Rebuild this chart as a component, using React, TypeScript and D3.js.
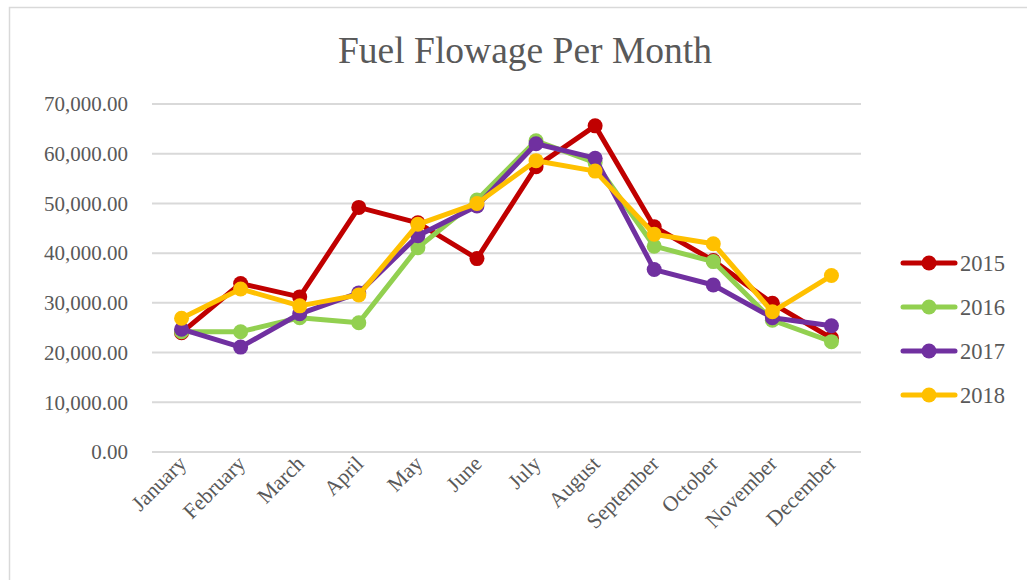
import React from 'react';
import * as d3 from 'd3';

const months = ['January', 'February', 'March', 'April', 'May', 'June', 'July', 'August', 'September', 'October', 'November', 'December'];
const years = ['2015', '2016', '2017', '2018'];
const colors = ['#C00000', '#92D050', '#7030A0', '#FFC000'];

const v2015 = [24000, 33900, 31200, 49200, 46100, 38900, 57400, 65600, 45300, 38500, 29900, 22900];
const v2016 = [24200, 24200, 27000, 26000, 41100, 50700, 62600, 58200, 41400, 38300, 26500, 22200];
const v2017 = [24700, 21100, 27800, 32000, 43500, 49500, 62000, 59100, 36700, 33600, 27000, 25400];
const v2018 = [26900, 32800, 29400, 31600, 45800, 50000, 58600, 56500, 43800, 41900, 28200, 35500];
const series = [v2015, v2016, v2017, v2018];

const yTicks = [0, 10000, 20000, 30000, 40000, 50000, 60000, 70000];

const font = '"Liberation Serif", serif';
const textColor = '#595959';

const App = () => {
  const width = 1027, height = 580;
  const left = 152, right = 861, top = 104, bottom = 452;

  const x = d3.scalePoint<string>().domain(months).range([left, right]).padding(0.5);
  const y = d3.scaleLinear().domain([0, 70000]).range([bottom, top]);
  const fmt = d3.format(',.2f');

  const line = d3.line<number>()
    .x((d, i) => x(months[i]) as number)
    .y(d => y(d));

  return (
    <svg width={width} height={height} style={{ position: 'absolute', left: 0, top: 0, background: '#fff' }}>
      <rect x={9.5} y={7.5} width={1100} height={700} fill="#fff" stroke="#d9d9d9" strokeWidth={1.5} />
      <text x={525} y={63} textAnchor="middle" fontFamily={font} fontSize={37.5} fill={textColor}>Fuel Flowage Per Month</text>

      {yTicks.map(t => (
        <g key={t}>
          <line x1={left} x2={right} y1={y(t)} y2={y(t)} stroke="#d9d9d9" strokeWidth={2} />
          <text x={128} y={y(t)} dy="0.35em" textAnchor="end" fontFamily={font} fontSize={21} fill={textColor}>{fmt(t)}</text>
        </g>
      ))}

      {months.map(m => {
        const cx = (x(m) as number) + 6;
        return (
          <text key={m} transform={`translate(${cx},${465}) rotate(-45)`} textAnchor="end" fontFamily={font} fontSize={21.5} fill={textColor}>{m}</text>
        );
      })}

      {series.map((s, si) => (
        <g key={years[si]}>
          <path d={line(s) || ''} fill="none" stroke={colors[si]} strokeWidth={5} strokeLinejoin="round" strokeLinecap="round" />
          {s.map((v, i) => (
            <circle key={i} cx={x(months[i])} cy={y(v)} r={7.5} fill={colors[si]} />
          ))}
        </g>
      ))}

      {years.map((yr, i) => {
        const ly = 263 + i * 44;
        return (
          <g key={yr}>
            <line x1={903} x2={955} y1={ly} y2={ly} stroke={colors[i]} strokeWidth={5} strokeLinecap="round" />
            <circle cx={929} cy={ly} r={7.5} fill={colors[i]} />
            <text x={960} y={ly} dy="0.35em" fontFamily={font} fontSize={22.5} fill={textColor}>{yr}</text>
          </g>
        );
      })}
    </svg>
  );
};

export default App;
